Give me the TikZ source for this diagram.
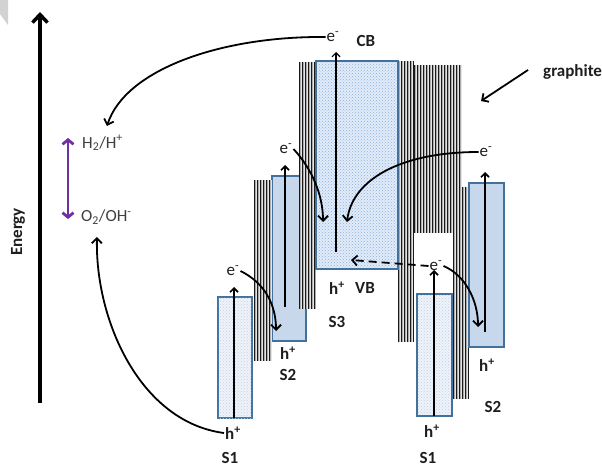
\documentclass[tikz,border=0pt]{standalone}
\usepackage{fontspec}
\setmainfont{Carlito}
\usetikzlibrary{arrows.meta,patterns}
\definecolor{bandedge}{RGB}{65,113,156}
\definecolor{fillS2}{RGB}{200,216,236}
\definecolor{fillS3}{RGB}{226,236,249}
\definecolor{dotS3}{RGB}{140,175,222}
\definecolor{fillS1}{RGB}{238,243,250}
\definecolor{dotS1}{RGB}{195,210,230}
\definecolor{redoxpurple}{RGB}{112,48,160}
\definecolor{txt}{RGB}{30,30,30}
\newcommand{\grhatch}[4]{%
  \fill[gray!65] (#1,#2) rectangle (#3,#4);
  \pgfmathsetmacro{\hsA}{#1+0.7}
  \pgfmathsetmacro{\hnA}{#1+3.7}
  \pgfmathsetmacro{\heA}{#3-0.3}
  \foreach \hx in {\hsA,\hnA,...,\heA} {\draw[black!90,line width=1.2pt] (\hx,#2) -- (\hx,#4);}
  \pgfmathsetmacro{\hsB}{#1+2.2}
  \pgfmathsetmacro{\hnB}{#1+5.2}
  \foreach \hx in {\hsB,\hnB,...,\heA} {\draw[white!80!gray,line width=0.4pt] (\hx,#2) -- (\hx,#4);}
}
\begin{document}
\begin{tikzpicture}[x=1pt,y=-1pt,
  lbl/.style={font=\fontsize{17}{17}\selectfont, text=txt, inner sep=1pt},
  blbl/.style={font=\fontsize{17}{17}\selectfont\bfseries, text=txt, inner sep=1pt},
  flow/.style={line width=1.8pt, -{Straight Barb[length=5pt,width=10pt]}},
  inarrow/.style={line width=1.7pt, -{Straight Barb[length=4pt,width=8pt]}},
  band/.style={draw=bandedge, line width=1.2pt, inner sep=0pt, outer sep=0pt, anchor=north west},
]
\useasboundingbox (0,0) rectangle (602,468);
\fill[white] (0,0) rectangle (602,468);
% page corner artifact
\fill[gray!35] (0,0) -- (8,0) -- (8,25) -- (0,14) -- cycle;

% energy axis
\coordinate (axbot) at (40,403);
\coordinate (axtop) at (40,12);
\draw[line width=3.5pt, -{Straight Barb[length=8pt,width=15pt]}] (axbot) -- (axtop);
\node[blbl, rotate=90] (energy) at (18,232) {Energy};

% redox levels
\node[lbl, anchor=west, text=black!75] (hh) at (81,143) {H\textsubscript{2}/H\textsuperscript{+}};
\node[lbl, anchor=west, text=black!75] (oo) at (80,217) {O\textsubscript{2}/OH\textsuperscript{-}};
\coordinate (pt) at (68,138);
\coordinate (pb) at (68,219);
\draw[redoxpurple, line width=2.8pt, {Straight Barb[length=4.5pt,width=11pt]}-{Straight Barb[length=4.5pt,width=11pt]}] (pt) -- (pb);

% S1 left and S2 left bands
\node[band, fill=fillS1, minimum width=34pt, minimum height=121pt] (S1Lb) at (218,297) {};
\path[pattern=crosshatch dots, pattern color=dotS1] (S1Lb.north west) rectangle (S1Lb.south east);
\node[band, fill=fillS2, minimum width=34pt, minimum height=165pt] (S2Lb) at (272,176) {};

% graphite hatching
\grhatch{254}{180}{272}{361}
\grhatch{299}{62}{316}{309}
\grhatch{398}{61}{414}{342}
\grhatch{414}{65}{462}{233}
\grhatch{453}{65}{462}{399}
\grhatch{462}{187}{469}{399}

% S3, S1 right, S2 right bands
\node[band, fill=fillS3, minimum width=82pt, minimum height=208pt] (S3b) at (316,61) {};
\path[pattern=crosshatch dots, pattern color=dotS3] (S3b.north west) rectangle (S3b.south east);
\draw[bandedge, line width=1.2pt] (S3b.north west) rectangle (S3b.south east);
\node[band, fill=fillS1, minimum width=35pt, minimum height=122pt] (S1Rb) at (417,294) {};
\path[pattern=crosshatch dots, pattern color=dotS1] (S1Rb.north west) rectangle (S1Rb.south east);
\draw[bandedge, line width=1.2pt] (S1Rb.north west) rectangle (S1Rb.south east);
\node[band, fill=fillS2, minimum width=35pt, minimum height=164pt] (S2Rb) at (469,183) {};

% labels
\node[lbl] (eCB) at (333,37) {e\textsuperscript{-}};
\node[blbl] (CB) at (366,41) {CB};
\node[blbl, anchor=west] (graph) at (542,72) {graphite};
\node[lbl] (eS2L) at (286,149) {e\textsuperscript{-}};
\node[lbl] (eR) at (486,152) {e\textsuperscript{-}};
\node[lbl] (eS1L) at (233,271) {e\textsuperscript{-}};
\node[lbl] (eS1R) at (436,266) {e\textsuperscript{-}};
\node[blbl] (hS3) at (337,288) {h\textsuperscript{+}};
\node[blbl] (VB) at (365,288) {VB};
\node[blbl] (S3) at (337,322) {S3};
\node[blbl] (hS2L) at (288,353) {h\textsuperscript{+}};
\node[blbl] (S2L) at (288,375) {S2};
\node[blbl] (hS2R) at (487,365) {h\textsuperscript{+}};
\node[blbl] (S2R) at (493,407) {S2};
\node[blbl] (hS1L) at (233,433) {h\textsuperscript{+}};
\node[blbl] (S1L) at (230,458) {S1};
\node[blbl] (hS1R) at (432,431) {h\textsuperscript{+}};
\node[blbl] (S1R) at (428,458) {S1};

% excitation arrows inside bands
\coordinate (a1b) at (234,418); \coordinate (a1t) at (234,287);
\coordinate (a2b) at (285,307); \coordinate (a2t) at (285,165);
\coordinate (a3b) at (336,252); \coordinate (a3t) at (336,52);
\coordinate (a4b) at (434,416); \coordinate (a4t) at (434,270);
\coordinate (a5b) at (485,332); \coordinate (a5t) at (485,172);
\draw[inarrow] (a1b) -- (a1t);
\draw[inarrow] (a2b) -- (a2t);
\draw[line width=1.2pt, -{Straight Barb[length=4pt,width=8pt]}] (a3b) -- (a3t);
\draw[inarrow] (a4b) -- (a4t);
\draw[inarrow] (a5b) -- (a5t);

% transfer arrows
\coordinate (tH2) at (107,126);
\coordinate (tO2) at (97,237);
\coordinate (tS2L) at (276,331);
\coordinate (tS3a) at (323,222);
\coordinate (tS3b) at (347,222);
\coordinate (tS3c) at (351,260);
\coordinate (tS2R) at (478,327);
\coordinate (gtip) at (481,101);
\draw[flow] (eCB.west) .. controls (220,36) and (125,70) .. (tH2);
\draw[flow] (hS1L.west) .. controls (140,422) and (95,320) .. (tO2);
\draw[flow] (eS1L.east) .. controls (265,283) and (276,305) .. (tS2L);
\draw[flow] (eS2L.east) .. controls (312,169) and (323,195) .. (tS3a);
\draw[flow] (eR.west) .. controls (400,152) and (352,180) .. (tS3b);
\draw[flow] (eS1R.east) .. controls (465,275) and (478,300) .. (tS2R);
\draw[flow, dash pattern=on 8pt off 5pt] (eS1R.west) -- (tS3c);
\draw[flow] (graph.west) ++(-14,-2) coordinate (gstart) (gstart) -- (gtip);
\end{tikzpicture}
\end{document}
